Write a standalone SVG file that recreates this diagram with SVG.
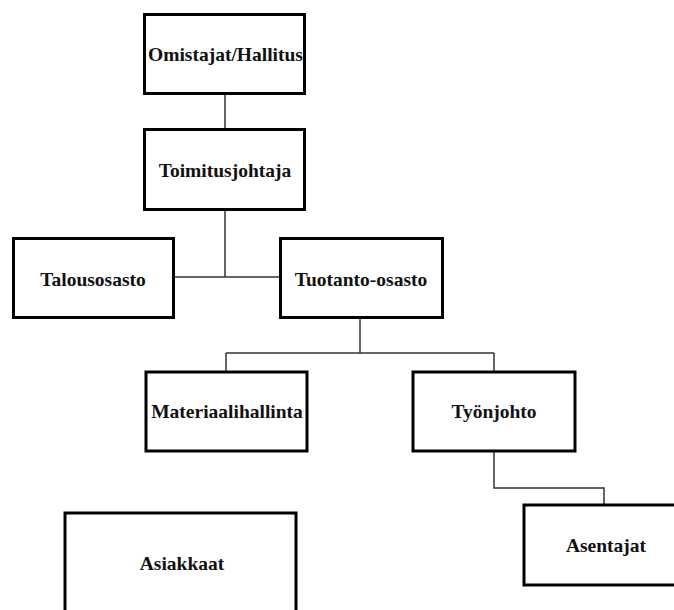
<svg xmlns="http://www.w3.org/2000/svg" width="674" height="610" viewBox="0 0 674 610">
  <style>
    .box { fill: #ffffff; stroke: #000000; stroke-width: 3; }
    .lbl { font-weight: bold; font-size: 19.5px; fill: #111111; text-anchor: middle; }
    .conn { fill: none; stroke: #333333; stroke-width: 1.5; }
  </style>
  <rect width="674" height="610" fill="#ffffff"/>

  <!-- connectors -->
  <g id="connectors">
    <path class="conn" d="M225,94 V128"/>
    <path class="conn" d="M225,210 V277 M174,277 H279"/>
    <path class="conn" d="M360,318 V353 M226,353 H494 M226,353 V371 M494,353 V371"/>
    <path class="conn" d="M494,451 V488 H604 V504"/>
  </g>

  <g font-family="Liberation Serif, Tinos, DejaVu Serif, serif">
    <g id="omistajat">
      <rect class="box" x="144.5" y="14.5" width="160" height="79"/>
      <text class="lbl" x="225.5" y="61">Omistajat/Hallitus</text>
    </g>
    <g id="toimitusjohtaja">
      <rect class="box" x="144.5" y="129.5" width="160" height="80"/>
      <text class="lbl" x="225" y="177">Toimitusjohtaja</text>
    </g>
    <g id="talousosasto">
      <rect class="box" x="13.5" y="238.5" width="160" height="79"/>
      <text class="lbl" x="93" y="286">Talousosasto</text>
    </g>
    <g id="tuotanto-osasto">
      <rect class="box" x="280.5" y="238.5" width="162" height="79"/>
      <text class="lbl" x="361" y="286">Tuotanto-osasto</text>
    </g>
    <g id="materiaalihallinta">
      <rect class="box" x="146" y="372" width="161" height="79"/>
      <text class="lbl" x="227" y="418">Materiaalihallinta</text>
    </g>
    <g id="tyonjohto">
      <rect class="box" x="413" y="372" width="162" height="79"/>
      <text class="lbl" x="494" y="418">Työnjohto</text>
    </g>
    <g id="asiakkaat">
      <rect class="box" x="65" y="513" width="231" height="110"/>
      <text class="lbl" x="182" y="570">Asiakkaat</text>
    </g>
    <g id="asentajat">
      <rect class="box" x="524" y="505" width="163" height="80"/>
      <text class="lbl" x="606" y="552">Asentajat</text>
    </g>
  </g>
</svg>
